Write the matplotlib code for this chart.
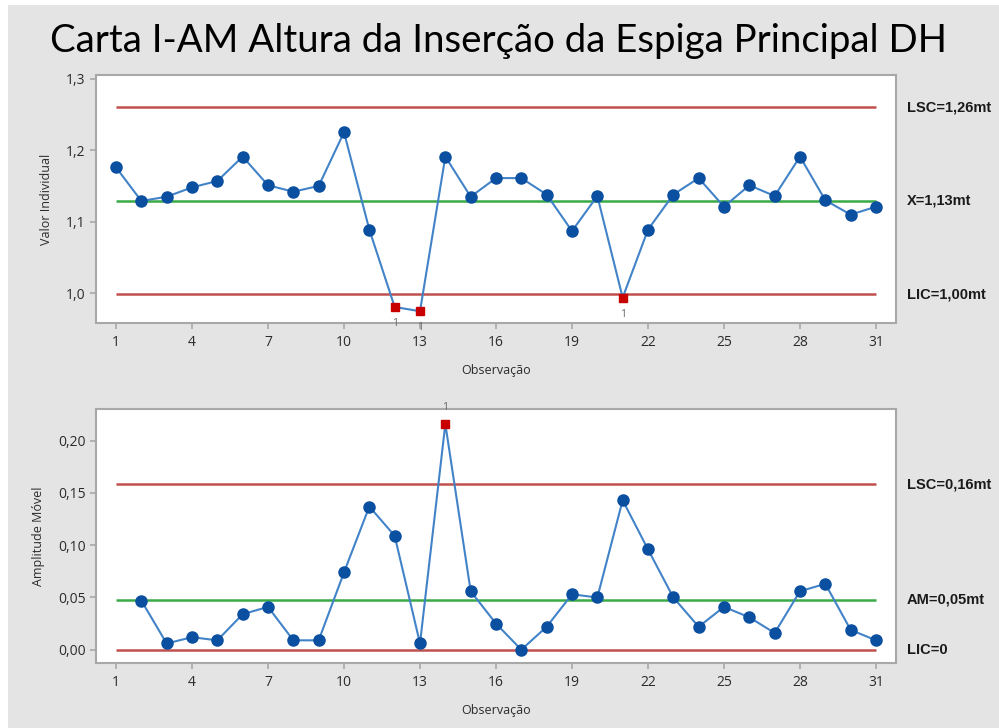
import matplotlib
matplotlib.use("Agg")
import matplotlib.pyplot as plt
from matplotlib.patches import Rectangle

# ---------------- data ----------------
obs = list(range(1, 32))
individual = [1.176, 1.129, 1.135, 1.148, 1.157, 1.191, 1.151, 1.142, 1.150, 1.225,
              1.089, 0.981, 0.975, 1.191, 1.135, 1.161, 1.161, 1.138, 1.087, 1.136,
              0.994, 1.089, 1.138, 1.161, 1.121, 1.151, 1.136, 1.191, 1.130, 1.110, 1.121]
mr_obs = list(range(2, 32))
moving_range = [0.047, 0.006, 0.012, 0.009, 0.034, 0.041, 0.009, 0.009, 0.074, 0.137,
                0.109, 0.006, 0.216, 0.056, 0.025, 0.000, 0.022, 0.053, 0.050, 0.143,
                0.096, 0.050, 0.022, 0.041, 0.031, 0.016, 0.056, 0.063, 0.019, 0.009]
i_limits = {"LSC": 1.26, "X": 1.1295, "LIC": 0.999}
mr_limits = {"LSC": 0.1585, "AM": 0.048, "LIC": 0.0}
i_out = [12, 13, 21]
mr_out = [14]
i_labels = ["LSC=1,26mt", "X=1,13mt", "LIC=1,00mt"]
mr_labels = ["LSC=0,16mt", "AM=0,05mt", "LIC=0"]
x_ticks = [1, 4, 7, 10, 13, 16, 19, 22, 25, 28, 31]
i_yticks = [1.0, 1.1, 1.2, 1.3]
i_yticklabels = ["1,0", "1,1", "1,2", "1,3"]
mr_yticks = [0.0, 0.05, 0.10, 0.15, 0.20]
mr_yticklabels = ["0,00", "0,05", "0,10", "0,15", "0,20"]
title = "Carta I-AM Altura da Inserção da Espiga Principal DH"

# ---------------- style ----------------
LINE = "#4283c8"
MARK = "#0a4fa0"
RED = "#c80000"
LIM = "#c0504d"
GREEN = "#3aaa48"
SPINE = "#a8a8a8"
TXT = "#2b2b2b"
BG = "#e4e4e4"
plt.rcParams["font.family"] = ["Open Sans", "DejaVu Sans"]

fig = plt.figure(figsize=(9.99, 7.28), dpi=100)
fig.patch.set_facecolor("white")
fig.add_artist(Rectangle((8 / 999, 0), 1, 1 - 5 / 728, transform=fig.transFigure,
                         facecolor=BG, edgecolor="none", zorder=-10))

fig.text(0.499, 1 - 41 / 728, title, ha="center", va="center",
         fontsize=27.6, family=["Lato", "DejaVu Sans"], color="black")

ax1 = fig.add_axes([96 / 999, 1 - 323 / 728, 800 / 999, 248 / 728])
ax2 = fig.add_axes([96 / 999, 1 - 662.7 / 728, 800 / 999, 253.7 / 728])


def style(ax, yticks, ylabels, ylim, ylabel):
    ax.set_facecolor("white")
    for s in ax.spines.values():
        s.set_color(SPINE)
        s.set_linewidth(1.5)
    ax.set_xlim(0.21, 31.79)
    ax.set_ylim(*ylim)
    ax.set_xticks(x_ticks)
    ax.set_xticklabels([str(t) for t in x_ticks])
    ax.set_yticks(yticks)
    ax.set_yticklabels(ylabels)
    ax.tick_params(axis="both", colors=SPINE, labelcolor=TXT, labelsize=10,
                   length=4, width=1.2, direction="out")
    ax.tick_params(axis="x", pad=5)
    ax.set_xlabel("Observação", fontsize=9, color=TXT, labelpad=10)
    ax.set_ylabel(ylabel, fontsize=9, color=TXT, labelpad=9)


style(ax1, i_yticks, i_yticklabels, (0.9586, 1.305), "Valor Individual")
style(ax2, mr_yticks, mr_yticklabels, (-0.0124, 0.2303), "Amplitude Móvel")

# control limit lines
for ax, lims in ((ax1, i_limits), (ax2, mr_limits)):
    keys = list(lims.keys())
    ax.hlines(lims[keys[0]], 1, 31, color=LIM, lw=1.8, zorder=1)
    ax.hlines(lims[keys[1]], 1, 31, color=GREEN, lw=1.8, zorder=1)
    ax.hlines(lims[keys[2]], 1, 31, color=LIM, lw=1.8, zorder=1)

# I chart
ax1.plot(obs, individual, color=LINE, lw=1.5, zorder=2)
ok_x = [x for x in obs if x not in i_out]
ok_y = [individual[x - 1] for x in ok_x]
ax1.plot(ok_x, ok_y, "o", color=MARK, ms=8, zorder=3)
bad_y = [individual[x - 1] for x in i_out]
ax1.plot(i_out, bad_y, "s", color=RED, ms=6, zorder=3)
for x, y in zip(i_out, bad_y):
    ax1.annotate("1", (x, y), xytext=(0, -8), textcoords="offset points",
                 ha="center", va="top", fontsize=7.5, color="#666666")

# MR chart
ax2.plot(mr_obs, moving_range, color=LINE, lw=1.5, zorder=2)
ok_x2 = [x for x in mr_obs if x not in mr_out]
ok_y2 = [moving_range[x - 2] for x in ok_x2]
ax2.plot(ok_x2, ok_y2, "o", color=MARK, ms=8, zorder=3)
bad_y2 = [moving_range[x - 2] for x in mr_out]
ax2.plot(mr_out, bad_y2, "s", color=RED, ms=6, zorder=3, clip_on=False)
for x, y in zip(mr_out, bad_y2):
    ax2.annotate("1", (x, y), xytext=(0, 8), textcoords="offset points",
                 ha="center", va="bottom", fontsize=7.5, color="#666666",
                 annotation_clip=False)

# right-side limit labels
for ax, lims, labs in ((ax1, i_limits, i_labels), (ax2, mr_limits, mr_labels)):
    for val, lab in zip(lims.values(), labs):
        ax.annotate(lab, xy=(1.0, val), xycoords=("axes fraction", "data"),
                    xytext=(8, 0), textcoords="offset points", ha="left",
                    va="center", fontsize=10.5, fontweight="bold", color="#1a1a1a",
                    family=["Liberation Sans", "DejaVu Sans"],
                    annotation_clip=False)

fig.savefig("out.png", dpi=100, facecolor=fig.get_facecolor())
